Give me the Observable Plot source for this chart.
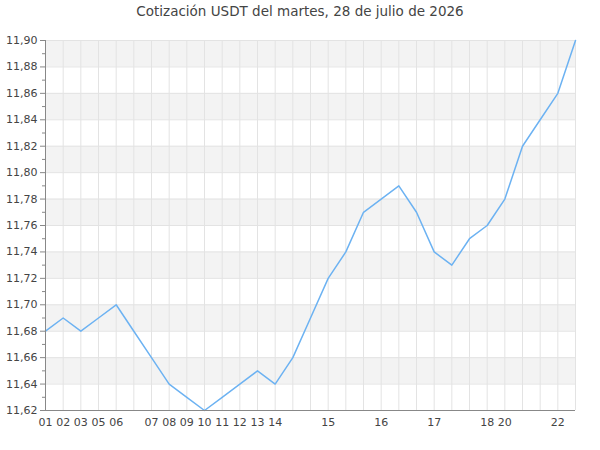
<!DOCTYPE html>
<html>
<head>
<meta charset="utf-8">
<script src="https://cdn.jsdelivr.net/npm/d3@7"></script>
<script src="https://cdn.jsdelivr.net/npm/@observablehq/plot@0.6"></script>
<style>
  body { margin: 0; background: #fff; font-family: "DejaVu Sans", sans-serif; }
  #wrap { position: relative; width: 600px; height: 450px; }
  #title { position: absolute; top: 3px; left: 0; width: 600px; text-align: center; font-size: 13.5px; color: #444; }
  #chart { position: absolute; top: 0; left: 0; }
</style>
</head>
<body>
<div id="wrap">
  <div id="title">Cotización USDT del martes, 28 de julio de 2026</div>
  <div id="chart"></div>
</div>
<script>
// etiqueta de hora de cada punto ("" = sin etiqueta)
const horas = ["01","02","03","05","06","","07","08","09","10","11","12","13","14","","","15","","","16","","","17","","","18","20","","","22",""]
const cotizacion = [11.68,11.69,11.68,11.69,11.70,11.68,11.66,11.64,11.63,11.62,11.63,11.64,11.65,11.64,11.66,11.69,11.72,11.74,11.77,11.78,11.79,11.77,11.74,11.73,11.75,11.76,11.78,11.82,11.84,11.86,11.90]
const yTicks = [11.62,11.64,11.66,11.68,11.70,11.72,11.74,11.76,11.78,11.80,11.82,11.84,11.86,11.88,11.90]
const yMinor = [11.63,11.65,11.67,11.69,11.71,11.73,11.75,11.77,11.79,11.81,11.83,11.85,11.87,11.89]

const data = cotizacion.map((v, i) => ({i, v}))
const bandas = yTicks.filter((d, k) => k % 2 === 1).map(d => ({y1: d, y2: d + 0.02}))
const conEtiqueta = d3.range(horas.length).filter(i => horas[i] !== "")
const coma = d => d.toFixed(2).replace(".", ",")

let chart = Plot.plot({
  width: 600,
  height: 450,
  marginTop: 40,
  marginBottom: 40,
  marginLeft: 45,
  marginRight: 25,
  style: {fontFamily: "DejaVu Sans", fontSize: "11px", color: "#444", background: "transparent"},
  x: {domain: [0, horas.length - 1]},
  y: {domain: [11.62, 11.90]},
  marks: [
    Plot.rect(bandas, {y1: 'y1', y2: 'y2', fill: '#f3f3f3'}),
    Plot.ruleX(d3.range(horas.length), {stroke: '#e3e3e3'}),
    Plot.ruleY(yTicks, {stroke: '#e3e3e3'}),
    Plot.line(data, {x: 'i', y: 'v', stroke: '#6cb2f2', strokeWidth: 1.5}),
    Plot.axisY({ticks: yTicks, tickFormat: coma, tickSize: 5, tickPadding: 3, label: null, stroke: '#888', fill: '#444'}),
    Plot.axisY({ticks: yMinor, tickFormat: () => "", tickSize: 3, label: null, stroke: '#888'}),
    Plot.axisX({ticks: conEtiqueta, tickFormat: i => horas[i], tickSize: 0, tickPadding: 8, label: null, fill: '#444'}),
    Plot.ruleY([11.62], {stroke: '#888'}),
    Plot.ruleX([0], {stroke: '#888'}),
  ],
})

d3.select('#chart').append(() => chart)
</script>
</body>
</html>
